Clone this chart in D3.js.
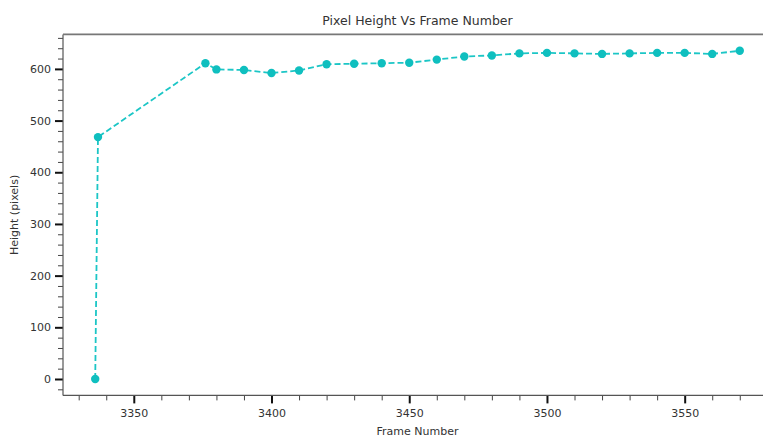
<!DOCTYPE html>
<html>
<head>
<meta charset="utf-8">
<script src="https://cdn.jsdelivr.net/npm/d3@7"></script>
<style>
  html, body { margin: 0; padding: 0; background: #fff; }
  svg { display: block; font-family: "DejaVu Sans", sans-serif; }
</style>
</head>
<body>
<svg id="chart" width="763" height="440"></svg>
<script>
// Frame numbers and measured heights (pixels)
const frames = [3336, 3337, 3376, 3380, 3390, 3400, 3410, 3420, 3430, 3440, 3450,
                3460, 3470, 3480, 3490, 3500, 3510, 3520, 3530, 3540, 3550, 3560, 3570];
const heights = [0, 468, 611, 599, 598, 592, 597, 609, 610, 611, 612,
                 618, 624, 626, 630, 631, 630, 629, 630, 631, 631, 629, 635];
const xMajorTicks = [3350, 3400, 3450, 3500, 3550];
const yMajorTicks = [0, 100, 200, 300, 400, 500, 600];

const titleText = "Pixel Height Vs Frame Number";
const xLabelText = "Frame Number";
const yLabelText = "Height (pixels)";

(function () {
  const data = frames.map((f, i) => ({ f, h: heights[i] }));

  const svg = d3.select("#chart");
  const padL = 63, padR = 772, padT = 34.4, padB = 395.4;

  // autoscale with 5% margins on each side
  const xMin = d3.min(frames), xMax = d3.max(frames);
  const yMin = d3.min(heights), yMax = d3.max(heights);
  const xPad = (xMax - xMin) * 0.05, yPad = (yMax - yMin) * 0.05;

  const x = d3.scaleLinear().domain([xMin - xPad, xMax + xPad]).range([padL, padR]);
  const y = d3.scaleLinear().domain([yMin - yPad, yMax + yPad]).range([padB, padT]);

  // minor ticks
  const xMinor = d3.range(Math.ceil((xMin - xPad) / 10) * 10, xMax + xPad, 10)
    .filter(v => !xMajorTicks.includes(v));
  const yMinor = d3.range(Math.ceil((yMin - yPad) / 20) * 20, yMax + yPad, 20)
    .filter(v => !yMajorTicks.includes(v));

  // x axis
  const xAxis = d3.axisBottom(x).tickValues(xMajorTicks).tickSize(8).tickPadding(6)
    .tickFormat(d3.format("d"));
  const gx = svg.append("g").attr("transform", `translate(0,${padB})`).call(xAxis);
  gx.select(".domain").remove();
  gx.selectAll(".tick line").attr("stroke", "#111").attr("stroke-width", 2);
  gx.selectAll(".tick text").attr("fill", "#333").attr("font-size", 11)
    .attr("font-family", "DejaVu Sans, sans-serif");
  const gxm = svg.append("g").attr("transform", `translate(0,${padB})`)
    .call(d3.axisBottom(x).tickValues(xMinor).tickSize(5).tickFormat(""));
  gxm.select(".domain").remove();
  gxm.selectAll(".tick line").attr("stroke", "#444").attr("stroke-width", 1);

  // y axis
  const yAxis = d3.axisLeft(y).tickValues(yMajorTicks).tickSize(8).tickPadding(4)
    .tickFormat(d3.format("d"));
  const gy = svg.append("g").attr("transform", `translate(${padL},0)`).call(yAxis);
  gy.select(".domain").remove();
  gy.selectAll(".tick line").attr("stroke", "#111").attr("stroke-width", 2);
  gy.selectAll(".tick text").attr("fill", "#333").attr("font-size", 11)
    .attr("font-family", "DejaVu Sans, sans-serif");
  const gym = svg.append("g").attr("transform", `translate(${padL},0)`)
    .call(d3.axisLeft(y).tickValues(yMinor).tickSize(5).tickFormat(""));
  gym.select(".domain").remove();
  gym.selectAll(".tick line").attr("stroke", "#444").attr("stroke-width", 1);

  // spines
  svg.append("line").attr("x1", padL).attr("x2", padL).attr("y1", padT).attr("y2", padB)
    .attr("stroke", "#555").attr("stroke-width", 1.2);
  svg.append("line").attr("x1", padL).attr("x2", padR).attr("y1", padB).attr("y2", padB)
    .attr("stroke", "#555").attr("stroke-width", 1.2);
  svg.append("line").attr("x1", padL).attr("x2", padR).attr("y1", padT).attr("y2", padT)
    .attr("stroke", "#777").attr("stroke-width", 1.6);

  // dashed series line
  const line = d3.line().x(d => x(d.f)).y(d => y(d.h));
  svg.append("path").datum(data).attr("d", line)
    .attr("fill", "none").attr("stroke", "#1cc6c6").attr("stroke-width", 1.8)
    .attr("stroke-dasharray", "6,3");

  // markers
  svg.append("g").selectAll("circle").data(data).join("circle")
    .attr("cx", d => x(d.f)).attr("cy", d => y(d.h)).attr("r", 4.2)
    .attr("fill", "#0fbfbf");

  // title and labels
  svg.append("text").attr("x", (padL + padR) / 2).attr("y", 25)
    .attr("text-anchor", "middle").attr("font-size", 12.5).attr("fill", "#333")
    .text(titleText);
  svg.append("text").attr("x", (padL + padR) / 2).attr("y", 435)
    .attr("text-anchor", "middle").attr("font-size", 11).attr("fill", "#333")
    .text(xLabelText);
  svg.append("text")
    .attr("transform", `translate(18,${(padT + padB) / 2}) rotate(-90)`)
    .attr("text-anchor", "middle").attr("font-size", 11).attr("fill", "#333")
    .text(yLabelText);
})();
</script>
</body>
</html>
